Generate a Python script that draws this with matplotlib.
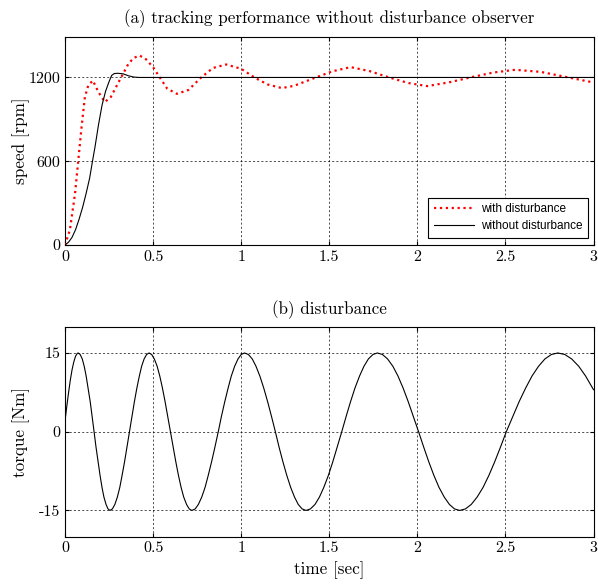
import matplotlib
matplotlib.use("Agg")
import matplotlib.pyplot as plt

# ---- data ----
t_nodist = [0, 0.02, 0.04, 0.06, 0.08, 0.10, 0.12, 0.14, 0.156, 0.17, 0.19, 0.21,
            0.23, 0.25, 0.265, 0.28, 0.30, 0.33, 0.36, 0.39, 0.42, 3.0]
speed_nodist = [0, 20, 55, 110, 185, 270, 370, 480, 600, 700, 860, 1000,
                1100, 1170, 1215, 1228, 1230, 1226, 1212, 1203, 1200, 1200]

t_dist = [0, 0.028, 0.057, 0.075, 0.094, 0.113, 0.132, 0.158, 0.19, 0.226, 0.26,
          0.31, 0.36, 0.39, 0.424, 0.46, 0.5, 0.538, 0.58, 0.635, 0.7, 0.773,
          0.84, 0.915, 1.0, 1.075, 1.15, 1.23, 1.3, 1.424, 1.52, 1.622, 1.73,
          1.84, 1.95, 2.056, 2.18, 2.30, 2.43, 2.556, 2.70, 2.858, 3.0]
speed_dist = [0, 110, 369, 600, 845, 1060, 1143, 1178, 1095, 1024, 1060,
              1180, 1298, 1340, 1357, 1330, 1274, 1200, 1120, 1083, 1110, 1200,
              1268, 1293, 1262, 1200, 1150, 1124, 1140, 1200, 1245, 1274, 1245,
              1200, 1160, 1138, 1165, 1200, 1235, 1255, 1240, 1200, 1164]

t_torque = [
    0.000, 0.010, 0.020, 0.030, 0.040, 0.050, 0.060, 0.070,
    0.075, 0.086, 0.098, 0.109, 0.120, 0.131, 0.143, 0.154,
    0.165, 0.176, 0.188, 0.199, 0.210, 0.221, 0.233, 0.244,
    0.255, 0.269, 0.283, 0.297, 0.311, 0.324, 0.338, 0.352,
    0.366, 0.380, 0.394, 0.408, 0.422, 0.435, 0.449, 0.463,
    0.477, 0.492, 0.507, 0.523, 0.538, 0.553, 0.568, 0.583,
    0.599, 0.614, 0.629, 0.644, 0.659, 0.674, 0.690, 0.705,
    0.720, 0.739, 0.757, 0.776, 0.795, 0.813, 0.832, 0.851,
    0.870, 0.888, 0.907, 0.926, 0.944, 0.963, 0.982, 1.000,
    1.019, 1.041, 1.063, 1.084, 1.106, 1.128, 1.150, 1.172,
    1.194, 1.215, 1.237, 1.259, 1.281, 1.303, 1.324, 1.346,
    1.368, 1.393, 1.419, 1.444, 1.469, 1.495, 1.520, 1.545,
    1.571, 1.596, 1.621, 1.646, 1.672, 1.697, 1.722, 1.748,
    1.773, 1.802, 1.831, 1.861, 1.890, 1.919, 1.948, 1.977,
    2.007, 2.036, 2.065, 2.094, 2.123, 2.153, 2.182, 2.211,
    2.240, 2.273, 2.306, 2.339, 2.373, 2.406, 2.439, 2.472,
    2.505, 2.542, 2.578, 2.615, 2.651, 2.688, 2.724, 2.761,
    2.797, 2.837, 2.876, 2.916, 2.955, 3.000]
torque = [
    2.00, 4.80, 7.40, 9.80, 11.80, 13.30, 14.40, 14.93,
    15.00, 14.71, 13.86, 12.47, 10.61, 8.33, 5.74, 2.93,
    0.00, -2.93, -5.74, -8.33, -10.61, -12.47, -13.86, -14.71,
    -15.00, -14.71, -13.86, -12.47, -10.61, -8.33, -5.74, -2.93,
    0.00, 2.93, 5.74, 8.33, 10.61, 12.47, 13.86, 14.71,
    15.00, 14.71, 13.86, 12.47, 10.61, 8.33, 5.74, 2.93,
    0.00, -2.93, -5.74, -8.33, -10.61, -12.47, -13.86, -14.71,
    -15.00, -14.71, -13.86, -12.47, -10.61, -8.33, -5.74, -2.93,
    0.00, 2.93, 5.74, 8.33, 10.61, 12.47, 13.86, 14.71,
    15.00, 14.71, 13.86, 12.47, 10.61, 8.33, 5.74, 2.93,
    0.00, -2.93, -5.74, -8.33, -10.61, -12.47, -13.86, -14.71,
    -15.00, -14.71, -13.86, -12.47, -10.61, -8.33, -5.74, -2.93,
    0.00, 2.93, 5.74, 8.33, 10.61, 12.47, 13.86, 14.71,
    15.00, 14.71, 13.86, 12.47, 10.61, 8.33, 5.74, 2.93,
    0.00, -2.93, -5.74, -8.33, -10.61, -12.47, -13.86, -14.71,
    -15.00, -14.71, -13.86, -12.47, -10.61, -8.33, -5.74, -2.93,
    0.00, 2.93, 5.74, 8.33, 10.61, 12.47, 13.86, 14.71,
    15.00, 14.71, 13.86, 12.47, 10.61, 8.00]

x_ticks = [0, 0.5, 1, 1.5, 2, 2.5, 3]
x_ticklabels = ["0", "0.5", "1", "1.5", "2", "2.5", "3"]
speed_ticks = [0, 600, 1200]
speed_ticklabels = ["0", "600", "1200"]
torque_ticks = [-15, 0, 15]
torque_ticklabels = ["-15", "0", "15"]

plt.rcParams['font.family'] = ['cmr10', 'DejaVu Serif']
plt.rcParams['axes.unicode_minus'] = False

fig = plt.figure(figsize=(5.98, 5.85), dpi=100)
ax1 = fig.add_axes([0.1087, 0.5812, 0.8838, 0.3556])
ax2 = fig.add_axes([0.1087, 0.0826, 0.8838, 0.3589])

grid_kw = dict(color='black', linestyle=(0, (2.5, 2.5)), linewidth=0.6, alpha=0.8)
label_fs = 12.3
tick_fs = 11.5

ax1.plot(t_dist, speed_dist, color='red', linestyle=':', linewidth=1.6,
         label='with disturbance', zorder=3)
ax1.plot(t_nodist, speed_nodist, color='black', linewidth=0.8,
         label='without disturbance', zorder=4)
ax1.set_xlim(0, 3)
ax1.set_ylim(0, 1490)
ax1.set_xticks(x_ticks)
ax1.set_xticklabels(x_ticklabels)
ax1.set_yticks(speed_ticks)
ax1.set_yticklabels(speed_ticklabels)
ax1.set_ylabel('speed [rpm]', fontsize=label_fs)
ax1.yaxis.set_label_coords(-0.066, 0.5)
ax1.set_title('(a) tracking performance without disturbance observer',
              fontsize=label_fs, pad=10)
ax1.grid(True, **grid_kw)
leg = ax1.legend(loc='lower right', fancybox=False, framealpha=1, edgecolor='black',
                 prop={'family': ['Liberation Sans Narrow', 'Liberation Sans'], 'size': 8.5},
                 borderpad=0.45, handlelength=3.4, labelspacing=0.45, handletextpad=0.6,
                 borderaxespad=0, bbox_to_anchor=(0.989, 0.035))
leg.get_frame().set_linewidth(0.8)

ax2.plot(t_torque, torque, color='black', linewidth=0.8)
ax2.set_xlim(0, 3)
ax2.set_ylim(-20, 20)
ax2.set_xticks(x_ticks)
ax2.set_xticklabels(x_ticklabels)
ax2.set_yticks(torque_ticks)
ax2.set_yticklabels(torque_ticklabels)
ax2.set_ylabel('torque [Nm]', fontsize=label_fs)
ax2.yaxis.set_label_coords(-0.066, 0.5)
ax2.set_xlabel('time [sec]', fontsize=label_fs)
ax2.xaxis.set_label_coords(0.5, -0.117)
ax2.set_title('(b) disturbance', fontsize=label_fs, pad=9)
ax2.grid(True, **grid_kw)

for ax in (ax1, ax2):
    ax.tick_params(direction='in', top=True, right=True, labelsize=tick_fs, length=3)
    for s in ax.spines.values():
        s.set_linewidth(0.8)

fig.savefig('out.png', dpi=100)
